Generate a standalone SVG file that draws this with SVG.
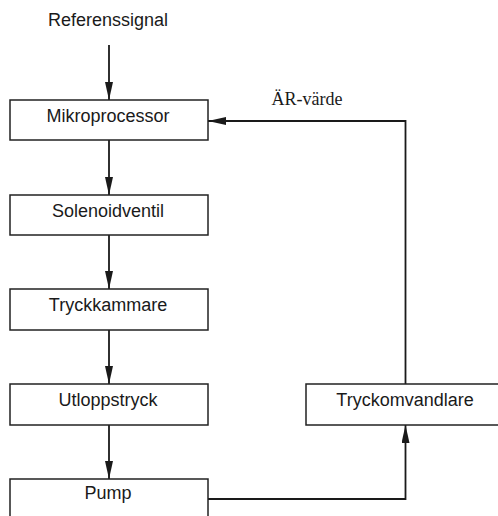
<svg xmlns="http://www.w3.org/2000/svg" width="498" height="516" viewBox="0 0 498 516">
<style>
.box{fill:#fff;stroke:#222;stroke-width:1.5}
.lbl{font-family:"Liberation Sans",Arial,sans-serif;font-size:18px;fill:#1a1a1a;text-anchor:middle}
.ser{font-family:"Liberation Serif","Times New Roman",serif;font-size:18px;fill:#1a1a1a;text-anchor:middle}
.con{fill:none;stroke:#1a1a1a;stroke-width:1.8}
</style>
<defs>
<marker id="ah" viewBox="0 0 18 8" refX="18" refY="4" markerWidth="18" markerHeight="8" markerUnits="userSpaceOnUse" orient="auto">
<path d="M0,0 L18,4 L0,8 z" fill="#1a1a1a"/>
</marker>
</defs>
<rect width="498" height="516" fill="#fff"/>
<text class="lbl" x="108" y="26">Referenssignal</text>
<g id="connectors">
<line class="con" x1="109" y1="45" x2="109" y2="100" marker-end="url(#ah)"/>
<line class="con" x1="109" y1="140" x2="109" y2="195" marker-end="url(#ah)"/>
<line class="con" x1="109" y1="235" x2="109" y2="289" marker-end="url(#ah)"/>
<line class="con" x1="109" y1="330" x2="109" y2="384" marker-end="url(#ah)"/>
<line class="con" x1="109" y1="425" x2="109" y2="479" marker-end="url(#ah)"/>
<polyline class="con" points="208,499 405.5,499 405.5,425" marker-end="url(#ah)"/>
<polyline class="con" points="405.5,384 405.5,121 208,121" marker-end="url(#ah)"/>
<text class="ser" x="307" y="105">ÄR-värde</text>
</g>
<g id="mikroprocessor">
<rect class="box" x="10" y="100" width="198" height="40"/>
<text class="lbl" x="108" y="122">Mikroprocessor</text>
</g>
<g id="solenoidventil">
<rect class="box" x="10" y="195" width="198" height="40"/>
<text class="lbl" x="108" y="217">Solenoidventil</text>
</g>
<g id="tryckkammare">
<rect class="box" x="10" y="289" width="198" height="41"/>
<text class="lbl" x="108" y="311">Tryckkammare</text>
</g>
<g id="utloppstryck">
<rect class="box" x="10" y="384" width="198" height="41"/>
<text class="lbl" x="108" y="406">Utloppstryck</text>
</g>
<g id="pump">
<rect class="box" x="10" y="479" width="198" height="45"/>
<text class="lbl" x="108" y="499">Pump</text>
</g>
<g id="tryckomvandlare">
<rect class="box" x="306" y="384" width="198" height="41"/>
<text class="lbl" x="405" y="406">Tryckomvandlare</text>
</g>
</svg>
